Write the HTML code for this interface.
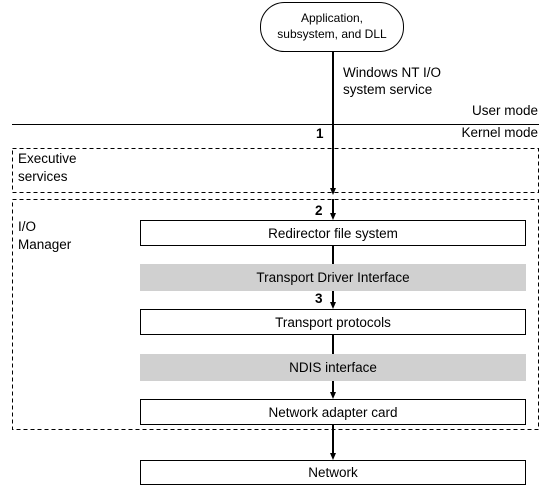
<!DOCTYPE html>
<html><head><style>
body{margin:0;background:#fff;}
svg{display:block;font-family:"Liberation Sans",Arial,sans-serif;}
</style></head><body>
<svg width="551" height="494" viewBox="0 0 551 494" xmlns="http://www.w3.org/2000/svg">
<rect x="260.5" y="2.5" width="143" height="49" rx="24" ry="24" fill="#fff" stroke="#000"/>
<text x="332" y="22" font-size="12" text-anchor="middle">Application,</text>
<text x="332" y="38" font-size="12" text-anchor="middle">subsystem, and DLL</text>
<text x="343" y="77" font-size="13.5">Windows NT I/O</text>
<text x="343" y="94" font-size="13.5">system service</text>
<text x="538" y="115" font-size="13.5" text-anchor="end">User mode</text>
<text x="538" y="137" font-size="13.5" text-anchor="end">Kernel mode</text>
<line x1="12" y1="124.5" x2="539" y2="124.5" stroke="#000"/>
<rect x="12.5" y="148.5" width="526" height="44" fill="none" stroke="#000" stroke-dasharray="4,3"/>
<rect x="12.5" y="199.5" width="526" height="230" fill="none" stroke="#000" stroke-dasharray="4,3"/>
<text x="18" y="163" font-size="13.5">Executive</text>
<text x="18" y="181" font-size="13.5">services</text>
<text x="18" y="231" font-size="13.5">I/O</text>
<text x="18" y="249" font-size="13.5">Manager</text>
<rect x="140.5" y="220.5" width="385" height="25" fill="#fff" stroke="#000"/>
<text x="333" y="238" font-size="13.5" text-anchor="middle">Redirector file system</text>
<rect x="140" y="264" width="386" height="27" fill="#d0d0d0"/>
<text x="333" y="282" font-size="13.5" text-anchor="middle">Transport Driver Interface</text>
<rect x="140.5" y="309.5" width="385" height="25" fill="#fff" stroke="#000"/>
<text x="333" y="327" font-size="13.5" text-anchor="middle">Transport protocols</text>
<rect x="140" y="354" width="386" height="27" fill="#d0d0d0"/>
<text x="333" y="372" font-size="13.5" text-anchor="middle">NDIS interface</text>
<rect x="140.5" y="399.5" width="385" height="25" fill="#fff" stroke="#000"/>
<text x="333" y="417" font-size="13.5" text-anchor="middle">Network adapter card</text>
<rect x="140.5" y="460.5" width="385" height="24" fill="#fff" stroke="#000"/>
<text x="333" y="477" font-size="13.5" text-anchor="middle">Network</text>
<g stroke="#000" stroke-width="2">
<line x1="333" y1="52" x2="333" y2="190"/>
<line x1="333" y1="199" x2="333" y2="215"/>
<line x1="333" y1="246" x2="333" y2="264"/>
<line x1="333" y1="291" x2="333" y2="304"/>
<line x1="333" y1="335" x2="333" y2="354"/>
<line x1="333" y1="381" x2="333" y2="394"/>
<line x1="333" y1="425" x2="333" y2="455"/>
</g>
<g fill="#000">
<polygon points="330,188 336,188 333,195"/>
<polygon points="330,213 336,213 333,220"/>
<polygon points="330,302 336,302 333,309"/>
<polygon points="330,392 336,392 333,399"/>
<polygon points="330,453 336,453 333,460"/>
</g>
<text x="316" y="138" font-size="13.5" font-weight="bold">1</text>
<text x="315" y="215" font-size="13.5" font-weight="bold">2</text>
<text x="315" y="303" font-size="13.5" font-weight="bold">3</text>
</svg>
</body></html>
